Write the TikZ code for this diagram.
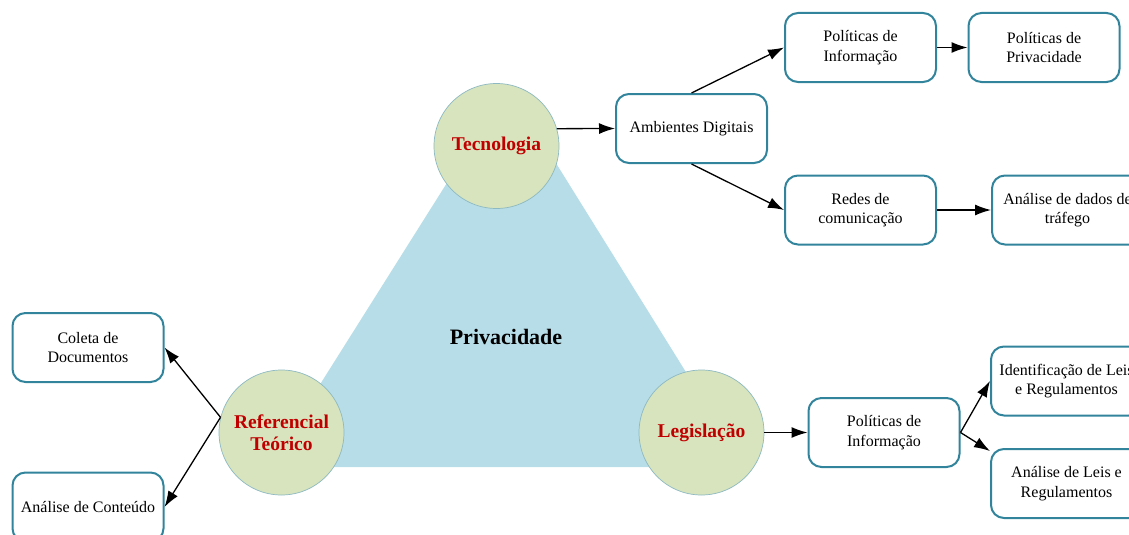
\documentclass[tikz,border=0pt]{standalone}
\usepackage{fontspec}
\setmainfont{Liberation Serif}
\usetikzlibrary{arrows.meta}
\definecolor{tri}{HTML}{B7DDE8}
\definecolor{circfill}{HTML}{D7E4BD}
\definecolor{circline}{HTML}{8DB9C2}
\definecolor{boxline}{HTML}{31849B}
\definecolor{lab}{HTML}{C00000}
\tikzset{
  box/.style={draw=boxline, line width=2pt, fill=white, rounded corners=13pt,
    minimum width=151pt, minimum height=69pt, align=center, inner sep=2pt,
    font=\fontsize{16}{19.5}\selectfont},
  topic/.style={circle, draw=circline, line width=0.7pt, fill=circfill,
    minimum size=125pt, inner sep=0pt, align=center, text=lab,
    font=\fontsize{19.5}{22}\selectfont\bfseries},
  conn/.style={-{Latex[length=16pt,width=11pt]}, line width=1.3pt, black}
}
\begin{document}
\begin{tikzpicture}[x=1pt,y=-1pt]
\useasboundingbox (0,0) rectangle (1129,535);
\clip (0,0) rectangle (1129,535);
% triangle
\fill[tri] (508,86) -- (268,467) -- (745,467) -- cycle;
\node[font=\fontsize{22}{26}\selectfont\bfseries] (P) at (506,337) {Privacidade};
% circles
\node[topic] (T) at (496.5,146) {Tecnologia};
\node[topic] (R) at (281.5,432.5) {Referencial\\Teórico};
\node[topic] (L) at (701.5,432.5) {Legislação};
% boxes
\node[box] (AD) at (691.5,128.5) {Ambientes Digitais};
\node[box] (PI1) at (860.5,47.5) {Políticas de\\Informação};
\node[box] (PP) at (1044,47.5) {Políticas de\\Privacidade};
\node[box] (RC) at (860.5,210) {Redes de\\comunicação};
\node[box] (AT) at (1067.5,210) {Análise de dados de\\tráfego};
\node[box] (CD) at (88,347.5) {Coleta de\\Documentos};
\node[box] (AC) at (88,507) {Análise de Conteúdo};
\node[box] (PI2) at (884,432.5) {Políticas de\\Informação};
\node[box] (IL) at (1066.5,381) {Identificação de Leis\\e Regulamentos};
\node[box] (AL) at (1066.5,483.5) {Análise de Leis e\\Regulamentos};
% connectors
\draw[conn] (T.16.3) -- (AD.west);
\draw[conn] (AD.north) -- (PI1.west);
\draw[conn] (AD.south) -- (RC.west);
\draw[conn] (PI1.east) -- (PP.west);
\draw[conn] (RC.east) -- (AT.west);
\draw[conn] (R.166) -- (CD.east);
\draw[conn] (R.166) -- (AC.east);
\draw[conn] (L.east) -- (PI2.west);
\draw[conn] (PI2.east) -- (IL.west);
\draw[conn] (PI2.east) -- (AL.157);
\end{tikzpicture}
\end{document}
